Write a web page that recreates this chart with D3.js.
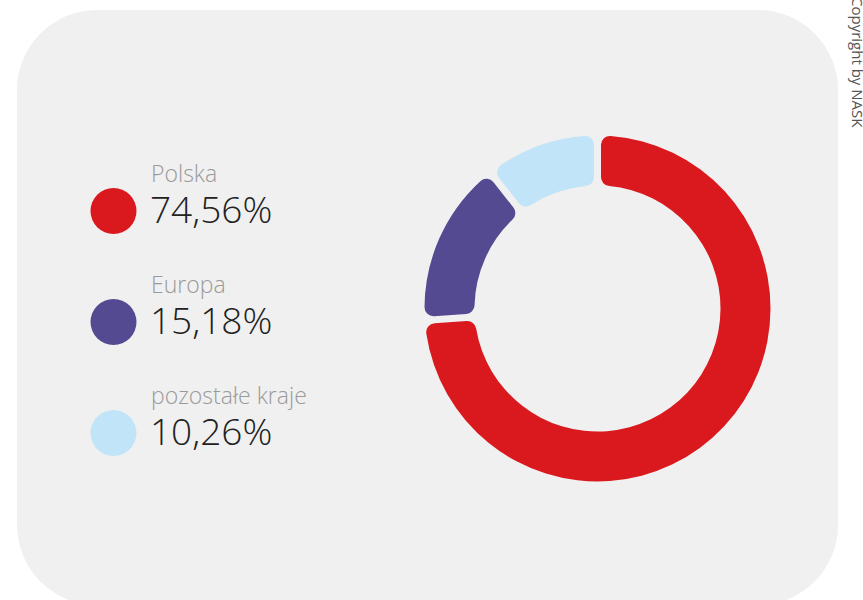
<!DOCTYPE html>
<html>
<head>
<meta charset="utf-8">
<script src="https://cdn.jsdelivr.net/npm/d3@7"></script>
<style>
  body { margin: 0; background: #fff; }
  text { font-family: "Open Sans", sans-serif; }
</style>
</head>
<body>
<script>
// dane z wykresu
var categories = ['Polska', 'Europa', 'pozostałe kraje'];
var values = [74.56, 15.18, 10.26];
var labels = ['74,56%', '15,18%', '10,26%'];
var colors = ['#da191e', '#534a91', '#c2e4f8'];

var width = 863, height = 600;

var svg = d3.select('body').append('svg')
  .attr('width', width)
  .attr('height', height);

// tlo panelu
svg.append('rect')
  .attr('x', 17).attr('y', 10)
  .attr('width', 821).attr('height', 595)
  .attr('rx', 80).attr('ry', 80)
  .style('fill', '#f0f0f0');

// donut
var pie = d3.pie().sort(null).value(function(d) { return d; }).padAngle(0.033);
var arc = d3.arc().innerRadius(123).outerRadius(173).cornerRadius(9);

svg.append('g')
  .attr('transform', 'translate(597.5,308.5)')
  .selectAll('path')
  .data(pie(values))
  .enter().append('path')
  .attr('d', arc)
  .style('fill', function(d, i) { return colors[i]; });

// legenda
var y = d3.scalePoint().domain(categories).range([211, 433]);

var legend = svg.selectAll('.legend')
  .data(categories)
  .enter().append('g')
  .attr('class', 'legend')
  .attr('transform', function(d) { return 'translate(0,' + y(d) + ')'; });

legend.append('circle')
  .attr('cx', 113.5)
  .attr('r', 23)
  .style('fill', function(d, i) { return colors[i]; });

legend.append('text')
  .attr('x', 151)
  .attr('y', -29)
  .style('font-size', '23px')
  .style('font-weight', 300)
  .style('fill', '#9a9a9a')
  .text(function(d) { return d; });

legend.append('text')
  .attr('x', 150)
  .attr('y', 12)
  .style('font-size', '37px')
  .style('font-weight', 300)
  .style('fill', '#222')
  .text(function(d, i) { return labels[i]; });

// copyright
svg.append('text')
  .attr('transform', 'translate(852,-3) rotate(90)')
  .style('font-size', '15px')
  .style('fill', '#555')
  .text('Copyright by NASK');
</script>
</body>
</html>
